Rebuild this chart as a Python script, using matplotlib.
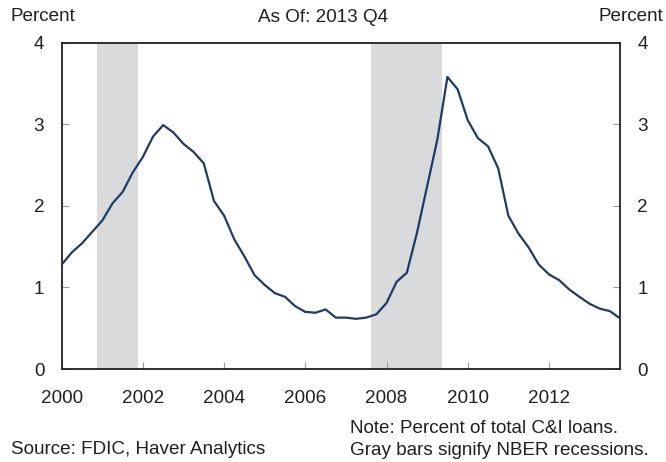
import numpy as np
import matplotlib
matplotlib.use("Agg")
import matplotlib.pyplot as plt

plt.rcParams['font.family'] = ['Liberation Sans', 'DejaVu Sans']

# quarterly values, 2000 Q1 .. 2013 Q4 (percent of total C&I loans)
start_year = 2000
values = [1.28, 1.43, 1.54, 1.68, 1.82, 2.03, 2.17, 2.41,
          2.60, 2.85, 2.99, 2.90, 2.76, 2.66, 2.52, 2.06,
          1.88, 1.59, 1.38, 1.15, 1.03, 0.93, 0.885, 0.77,
          0.70, 0.69, 0.73, 0.63, 0.63, 0.615, 0.63, 0.67,
          0.81, 1.07, 1.18, 1.67, 2.24, 2.81, 3.58, 3.43,
          3.05, 2.83, 2.73, 2.46, 1.88, 1.66, 1.49, 1.28,
          1.16, 1.09, 0.975, 0.885, 0.80, 0.74, 0.71, 0.62]
# NBER recessions as (first quarter, last quarter)
recessions = [(2001.0, 2001.75), (2007.75, 2009.25)]
xticks = [2000, 2002, 2004, 2006, 2008, 2010, 2012]
yticks = [0, 1, 2, 3, 4]

x = start_year + np.arange(len(values)) / 4.0

fig = plt.figure(figsize=(6.66, 4.62), dpi=100)
W, H = 666.0, 462.0
ax = fig.add_axes([61.7 / W, 1 - 369 / H, (620 - 61.7) / W, (369 - 42.7) / H])

for s, e in recessions:
    ax.axvspan(s - 0.125, e + 0.125, color='#d9dadc', lw=0, zorder=1)

ax.plot(x, values, color='#1d3c66', lw=1.6, zorder=3)

ax.set_xlim(x[0], x[-1])
ax.set_ylim(0, 4)
ax.set_xticks(xticks)
ax.set_xticklabels([str(t) for t in xticks])
ax.set_yticks(yticks)

for sp in ax.spines.values():
    sp.set_color('#231f20')
    sp.set_linewidth(1.3)

fs = 13.6
ax.tick_params(axis='x', direction='in', length=5, width=0.8, color='#999999',
               labelsize=fs, pad=15, labelcolor='#231f20')
ax.tick_params(axis='y', direction='in', length=5, width=0.8, color='#999999',
               labelsize=fs, pad=12.5, left=True, right=True,
               labelleft=True, labelright=True, labelcolor='#231f20')

tc = '#231f20'
fig.text(10 / W, 1 - 21 / H, 'Percent', fontsize=fs, color=tc,
         ha='left', va='baseline')
fig.text(323.5 / W, 1 - 22 / H, 'As Of: 2013 Q4', fontsize=fs, color=tc,
         ha='center', va='baseline')
fig.text(663 / W, 1 - 21 / H, 'Percent', fontsize=fs, color=tc,
         ha='right', va='baseline')
fig.text(11 / W, 1 - 454 / H, 'Source: FDIC, Haver Analytics', fontsize=fs,
         color=tc, ha='left', va='baseline')
fig.text(350 / W, 1 - 433 / H, 'Note: Percent of total C&I loans.', fontsize=fs,
         color=tc, ha='left', va='baseline')
fig.text(350 / W, 1 - 455 / H, 'Gray bars signify NBER recessions.', fontsize=fs,
         color=tc, ha='left', va='baseline')

fig.savefig('out.png', dpi=100)
